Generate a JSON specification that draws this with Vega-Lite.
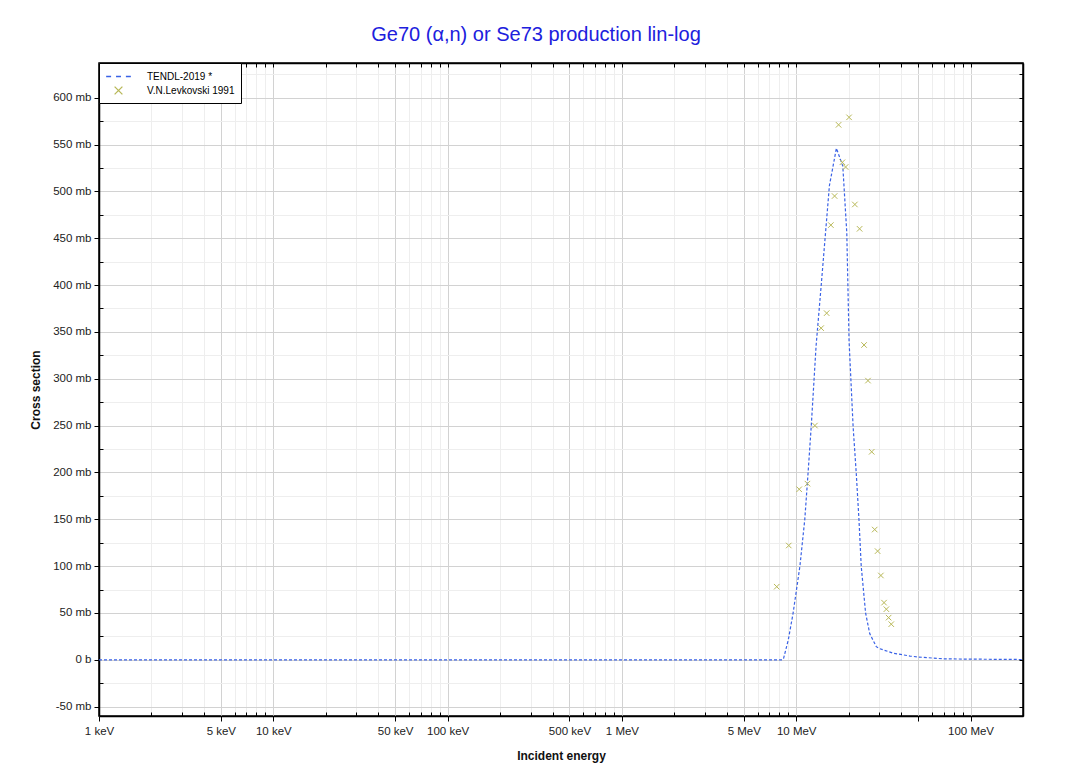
{
  "$schema": "https://vega.github.io/schema/vega-lite/v6.json",
  "width": 924,
  "height": 653,
  "autosize": "none",
  "padding": {"left": 99, "top": 63, "right": 48, "bottom": 58},
  "background": "white",
  "title": {"text": "Ge70 (α,n) or Se73 production lin-log", "color": "#2020dd", "font": "Liberation Sans", "fontSize": 20, "fontWeight": "normal", "offset": 18, "dx": -25},
  "config": {
    "view": {"stroke": "black", "strokeWidth": 1.5},
    "axis": {"labelFont": "Liberation Sans", "labelFontSize": 11.5, "labelColor": "#222", "titleFont": "Liberation Sans", "titleFontSize": 12, "titleFontWeight": "bold", "titleColor": "#111", "domainColor": "black", "domainWidth": 1.5, "tickColor": "black", "tickWidth": 1, "gridWidth": 1, "labelOverlap": false, "labelFlush": false}
  },
  "datasets": {
    "tendl": [
      {"e": 0.001, "xs": 0}, {"e": 0.01, "xs": 0}, {"e": 0.1, "xs": 0}, {"e": 1, "xs": 0}, {"e": 5, "xs": 0}, {"e": 8.3, "xs": 0},
      {"e": 8.45, "xs": 1}, {"e": 9.0, "xs": 21}, {"e": 9.6, "xs": 50}, {"e": 10.5, "xs": 100}, {"e": 11.2, "xs": 150},
      {"e": 11.7, "xs": 200}, {"e": 12.2, "xs": 250}, {"e": 13.0, "xs": 335}, {"e": 14.0, "xs": 406}, {"e": 15.5, "xs": 506},
      {"e": 17.0, "xs": 546}, {"e": 18.5, "xs": 527}, {"e": 19.5, "xs": 456}, {"e": 20.1, "xs": 340}, {"e": 21.2, "xs": 249},
      {"e": 22.1, "xs": 199}, {"e": 22.9, "xs": 150}, {"e": 23.6, "xs": 100}, {"e": 25.0, "xs": 50}, {"e": 26.4, "xs": 28},
      {"e": 28.8, "xs": 14}, {"e": 30.0, "xs": 12}, {"e": 36.0, "xs": 7}, {"e": 45.0, "xs": 4}, {"e": 50.0, "xs": 3},
      {"e": 70.0, "xs": 1}, {"e": 100.0, "xs": 0.7}, {"e": 200.0, "xs": 0.3}
    ],
    "exfor": [
      {"e": 7.73, "xs": 78, "series": "V.N.Levkovski 1991"},
      {"e": 9.06, "xs": 122, "series": "V.N.Levkovski 1991"},
      {"e": 10.4, "xs": 182, "series": "V.N.Levkovski 1991"},
      {"e": 11.6, "xs": 188, "series": "V.N.Levkovski 1991"},
      {"e": 12.8, "xs": 250, "series": "V.N.Levkovski 1991"},
      {"e": 13.9, "xs": 354, "series": "V.N.Levkovski 1991"},
      {"e": 14.95, "xs": 370, "series": "V.N.Levkovski 1991"},
      {"e": 15.8, "xs": 464, "series": "V.N.Levkovski 1991"},
      {"e": 16.6, "xs": 495, "series": "V.N.Levkovski 1991"},
      {"e": 17.5, "xs": 571, "series": "V.N.Levkovski 1991"},
      {"e": 18.4, "xs": 531, "series": "V.N.Levkovski 1991"},
      {"e": 19.2, "xs": 526, "series": "V.N.Levkovski 1991"},
      {"e": 20.1, "xs": 579, "series": "V.N.Levkovski 1991"},
      {"e": 21.7, "xs": 486, "series": "V.N.Levkovski 1991"},
      {"e": 23.1, "xs": 460, "series": "V.N.Levkovski 1991"},
      {"e": 24.5, "xs": 336, "series": "V.N.Levkovski 1991"},
      {"e": 25.8, "xs": 298, "series": "V.N.Levkovski 1991"},
      {"e": 27.1, "xs": 222, "series": "V.N.Levkovski 1991"},
      {"e": 28.2, "xs": 139, "series": "V.N.Levkovski 1991"},
      {"e": 29.3, "xs": 116, "series": "V.N.Levkovski 1991"},
      {"e": 30.6, "xs": 90, "series": "V.N.Levkovski 1991"},
      {"e": 31.9, "xs": 61, "series": "V.N.Levkovski 1991"},
      {"e": 32.9, "xs": 54, "series": "V.N.Levkovski 1991"},
      {"e": 33.9, "xs": 45, "series": "V.N.Levkovski 1991"},
      {"e": 35.1, "xs": 38, "series": "V.N.Levkovski 1991"}
    ]
  },
  "layer": [
    {
      "data": {"name": "tendl"},
      "mark": {"type": "line", "color": "#3a62e6", "strokeWidth": 1.2, "strokeDash": [3, 2], "clip": true},
      "encoding": {
        "x": {"field": "e", "type": "quantitative",
          "scale": {"type": "log", "domain": [0.001, 200], "nice": false},
          "axis": {"orient": "bottom", "title": "Incident energy", "titlePadding": 14,
            "values": [0.001,0.002,0.003,0.004,0.005,0.006,0.007,0.008,0.009,0.01,0.02,0.03,0.04,0.05,0.06,0.07,0.08,0.09,0.1,0.2,0.3,0.4,0.5,0.6,0.7,0.8,0.9,1,2,3,4,5,6,7,8,9,10,20,30,40,50,60,70,80,90,100,200],
            "labelExpr": "indexof([0.001,0.005,0.01,0.05,0.1,0.5,1,5,10,100], datum.value) < 0 ? '' : (datum.value < 1 ? round(datum.value*1000) + ' keV' : datum.value + ' MeV')",
            "gridColor": {"condition": {"test": "indexof([0.001,0.005,0.01,0.05,0.1,0.5,1,5,10,50,100], datum.value) >= 0", "value": "#d2d2d2"}, "value": "#eeeeee"},
            "tickSize": {"condition": {"test": "indexof([0.001,0.005,0.01,0.05,0.1,0.5,1,5,10,50,100], datum.value) >= 0", "value": 5}, "value": -4},
            "labelPadding": 4}},
        "y": {"field": "xs", "type": "quantitative",
          "scale": {"domain": [-60, 637], "nice": false, "zero": false},
          "axis": {"orient": "left", "title": "Cross section", "titlePadding": 10,
            "values": [-50,-25,0,25,50,75,100,125,150,175,200,225,250,275,300,325,350,375,400,425,450,475,500,525,550,575,600,625],
            "labelExpr": "datum.value % 50 != 0 ? '' : (datum.value == 0 ? '0 b' : datum.value + ' mb')",
            "gridColor": {"condition": {"test": "datum.value % 50 == 0", "value": "#d2d2d2"}, "value": "#eeeeee"},
            "tickSize": {"condition": {"test": "datum.value % 50 == 0", "value": 5}, "value": -4},
            "labelPadding": 3}}
      }
    },
    {
      "data": {"name": "exfor"},
      "mark": {"type": "point", "filled": false, "strokeWidth": 1, "size": 84, "opacity": 1},
      "encoding": {
        "x": {"field": "e", "type": "quantitative",
          "axis": {"orient": "top", "title": null, "labels": false, "grid": false, "tickSize": -4,
            "values": [0.001,0.002,0.003,0.004,0.005,0.006,0.007,0.008,0.009,0.01,0.02,0.03,0.04,0.05,0.06,0.07,0.08,0.09,0.1,0.2,0.3,0.4,0.5,0.6,0.7,0.8,0.9,1,2,3,4,5,6,7,8,9,10,20,30,40,50,60,70,80,90,100,200]}},
        "y": {"field": "xs", "type": "quantitative",
          "axis": {"orient": "right", "title": null, "labels": false, "grid": false, "tickSize": -4,
            "values": [-50,-25,0,25,50,75,100,125,150,175,200,225,250,275,300,325,350,375,400,425,450,475,500,525,550,575,600,625]}},
        "color": {"field": "series", "type": "nominal",
          "scale": {"domain": ["TENDL-2019 *", "V.N.Levkovski 1991"], "range": ["#3a62e6", "#b8b858"]},
          "legend": {"title": null, "orient": "top-left", "offset": 0, "padding": 6, "strokeColor": "black", "fillColor": "white", "cornerRadius": 0, "labelFont": "Liberation Sans", "labelFontSize": 10, "labelColor": "black", "symbolSize": 169, "symbolStrokeWidth": 1.3, "symbolOffset": 6, "rowPadding": 1, "labelOffset": 21}},
        "shape": {"field": "series", "type": "nominal",
          "scale": {"domain": ["TENDL-2019 *", "V.N.Levkovski 1991"], "range": ["M-1.9,0L-1.14,0M-0.38,0L0.38,0M1.14,0L1.9,0", "M-0.6,-0.6L0.6,0.6M-0.6,0.6L0.6,-0.6"]},
          "legend": {"title": null, "orient": "top-left", "offset": 0, "padding": 6, "strokeColor": "black", "fillColor": "white", "cornerRadius": 0, "labelFont": "Liberation Sans", "labelFontSize": 10, "labelColor": "black", "symbolSize": 169, "symbolStrokeWidth": 1.3, "symbolOffset": 6, "rowPadding": 1, "labelOffset": 21}}
      }
    }
  ],
  "resolve": {"axis": {"x": "independent", "y": "independent"}}
}
